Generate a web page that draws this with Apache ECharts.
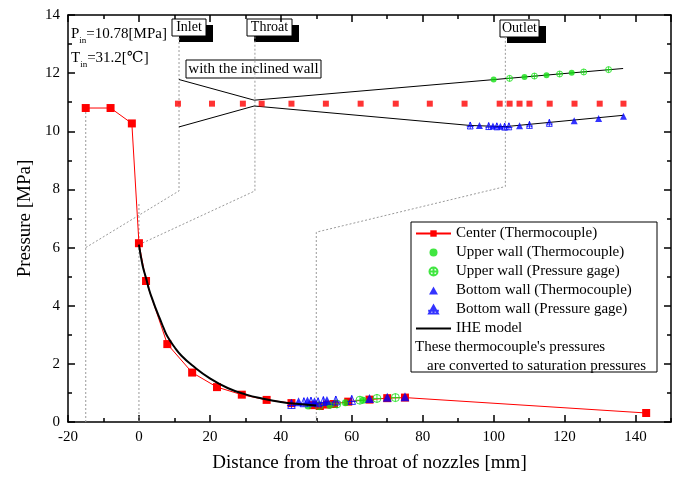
<!DOCTYPE html>
<html>
<head>
<meta charset="utf-8">
<script src="https://cdn.jsdelivr.net/npm/echarts@6/dist/echarts.min.js"></script>
<style>
  html, body { margin: 0; padding: 0; background: #fff; }
  #chart { width: 679px; height: 478px; }
</style>
</head>
<body>
<div id="chart"></div>
<script>
const SERIF = '"Liberation Serif", "DejaVu Serif", serif';

// measured pressures along the nozzle axis
const centerX = [-15, -8, -2, 0, 2, 8, 15, 22, 29, 36, 43, 49, 51, 53, 55, 59, 65, 70, 75, 143];
const centerP = [10.8, 10.8, 10.27, 6.15, 4.85, 2.68, 1.7, 1.2, 0.94, 0.76, 0.65, 0.58, 0.55, 0.6, 0.62, 0.7, 0.77, 0.82, 0.84, 0.31];

const upperTcX = [47.7, 53.8, 58.2, 63.2];
const upperTcP = [0.55, 0.58, 0.66, 0.75];
const upperPgX = [50.8, 55.8, 62.3, 67.1, 72.3];
const upperPgP = [0.56, 0.62, 0.75, 0.81, 0.84];

const bottomTcX = [45, 47.5, 49.5, 53, 65, 70, 75];
const bottomTcP = [0.7, 0.72, 0.7, 0.74, 0.81, 0.85, 0.87];
const bottomPgX = [43, 46.5, 48.5, 50.5, 52, 55.5, 60];
const bottomPgP = [0.62, 0.68, 0.7, 0.68, 0.72, 0.74, 0.76];

// IHE model curve
const iheX = [0, 1, 2, 3, 4, 5, 6, 7, 8, 10, 12, 15, 20, 25, 30, 35, 40, 45, 50];
const iheP = [6.1, 5.4, 4.95, 4.5, 4.15, 3.82, 3.52, 3.22, 2.95, 2.58, 2.28, 1.95, 1.5, 1.17, 0.95, 0.8, 0.69, 0.62, 0.57];

// nozzle sketch drawn in the upper part of the plot
const sketchCenterX = [11, 20.6, 29.3, 34.6, 43, 52.7, 62.5, 72.4, 82, 91.8, 101.7, 104.5, 107.3, 110.1, 115.8, 122.8, 129.9, 136.6];
const sketchCenterY = [10.95, 10.95, 10.95, 10.95, 10.95, 10.95, 10.95, 10.95, 10.95, 10.95, 10.95, 10.95, 10.95, 10.95, 10.95, 10.95, 10.95, 10.95];
const upperWallX = [11.3, 32.5, 136.5];
const upperWallY = [11.78, 11.07, 12.16];
const lowerWallX = [11.3, 32.5, 93.4, 103.3, 136.6];
const lowerWallY = [10.15, 10.87, 10.2, 10.16, 10.55];
const sUpperTcX = [100, 108.7, 114.9, 122];
const sUpperTcY = [11.78, 11.87, 11.93, 12.01];
const sUpperPgX = [104.5, 111.5, 118.6, 125.4, 132.4];
const sUpperPgY = [11.82, 11.9, 11.97, 12.04, 12.12];
const sBottomTcX = [96, 99.8, 101.9, 107.3, 122.7, 129.6, 136.6];
const sBottomTcY = [10.2, 10.18, 10.17, 10.19, 10.36, 10.44, 10.52];
const sBottomPgX = [93.4, 98.6, 100.9, 103.1, 104.3, 110.1, 115.7];
const sBottomPgY = [10.2, 10.18, 10.17, 10.16, 10.17, 10.22, 10.29];

// dotted guides linking sketch and measurement positions
const guideLines = [
  { x: [-15, -15], y: [0, 10.8] },
  { x: [-15, 11.3, 11.3], y: [6, 7.95, 13.3] },
  { x: [0, 0], y: [0, 7.5] },
  { x: [0, 32.7, 32.7], y: [6.1, 7.95, 13.3] },
  { x: [50, 50, 103.3, 103.3], y: [0, 6.53, 8.1, 13.25] }
];

const RED = '#ff0000';
const GREEN = '#11e011';
const BLUE = '#0000ff';
const crossCircle = 'path://M0,-10A10,10 0 1 1 0,10A10,10 0 1 1 0,-10ZM-10,0L10,0M0,-10L0,10';
const crossTriangle = 'path://M0,-10L10,8L-10,8ZM0,-10L0,8M-12,2L12,2';
const solidTriangle = 'path://M0,-10L10,8L-10,8Z';

function pts(xs, ys) {
  return xs.map((x, i) => [x, ys[i]]);
}

const chart = echarts.init(document.getElementById('chart'));

const tickStyle = { color: '#000', width: 1.5 };
function xAx(pos, interval, len, labels, line) {
  return {
    type: 'value', position: pos, min: -20, max: 150, interval: interval,
    axisLine: { show: line, onZero: false, lineStyle: tickStyle },
    axisTick: { inside: true, length: len, lineStyle: tickStyle },
    splitLine: { show: false },
    axisLabel: {
      show: labels, showMaxLabel: false, color: '#000',
      fontFamily: SERIF, fontSize: 15, margin: 8
    }
  };
}
function yAx(pos, labels) {
  return {
    type: 'value', position: pos, min: 0, max: 14, interval: 2,
    axisLine: { show: true, onZero: false, lineStyle: tickStyle },
    axisTick: { inside: true, length: 7, lineStyle: tickStyle },
    minorTick: { show: true, splitNumber: 2, length: 4, lineStyle: tickStyle },
    splitLine: { show: false },
    axisLabel: { show: labels, color: '#000', fontFamily: SERIF, fontSize: 15, margin: 8 }
  };
}

const xAxes = [
  Object.assign(xAx('bottom', 20, 7, true, true), {
    name: 'Distance from the throat of nozzles [mm]',
    nameLocation: 'middle', nameGap: 32,
    nameTextStyle: { fontFamily: SERIF, fontSize: 19, color: '#000' }
  }),
  xAx('bottom', 10, 4, false, false),
  xAx('top', 20, 7, false, true),
  xAx('top', 10, 4, false, false)
];
const yAxes = [
  Object.assign(yAx('left', true), {
    name: 'Pressure [MPa]', nameLocation: 'middle', nameGap: 31,
    nameTextStyle: { fontFamily: SERIF, fontSize: 19, color: '#000' }
  }),
  yAx('right', false)
];

const series = [];
guideLines.forEach((g, i) => {
  series.push({
    name: 'guide' + i, type: 'line', data: pts(g.x, g.y), symbol: 'none', silent: true,
    lineStyle: { color: '#999', width: 1, type: [2, 2] }, z: 1
  });
});
series.push(
  { name: 'upperWall', type: 'line', data: pts(upperWallX, upperWallY), symbol: 'none',
    lineStyle: { color: '#000', width: 1 }, z: 2 },
  { name: 'lowerWall', type: 'line', data: pts(lowerWallX, lowerWallY), symbol: 'none',
    lineStyle: { color: '#000', width: 1 }, z: 2 },
  { name: 'sketchCenter', type: 'scatter', data: pts(sketchCenterX, sketchCenterY),
    symbol: 'rect', symbolSize: 6, itemStyle: { color: RED }, z: 3 },
  { name: 'sketchUpperTc', type: 'scatter', data: pts(sUpperTcX, sUpperTcY),
    symbol: 'circle', symbolSize: 6, itemStyle: { color: GREEN }, z: 3 },
  { name: 'sketchUpperPg', type: 'scatter', data: pts(sUpperPgX, sUpperPgY),
    symbol: crossCircle, symbolSize: 6,
    itemStyle: { color: 'none', borderColor: GREEN, borderWidth: 1 }, z: 3 },
  { name: 'sketchBottomTc', type: 'scatter', data: pts(sBottomTcX, sBottomTcY),
    symbol: 'triangle', symbolSize: 7, itemStyle: { color: BLUE }, z: 3 },
  { name: 'sketchBottomPg', type: 'scatter', data: pts(sBottomPgX, sBottomPgY),
    symbol: crossTriangle, symbolSize: 7,
    itemStyle: { color: 'none', borderColor: BLUE, borderWidth: 1 }, z: 3 },

  { name: 'Center (Thermocouple)', type: 'line', data: pts(centerX, centerP),
    symbol: 'rect', symbolSize: 8, itemStyle: { color: RED },
    lineStyle: { color: RED, width: 1 }, z: 4 },
  { name: 'Upper wall (Thermocouple)', type: 'scatter', data: pts(upperTcX, upperTcP),
    symbol: 'circle', symbolSize: 7, itemStyle: { color: GREEN }, z: 5 },
  { name: 'Upper wall (Pressure gage)', type: 'scatter', data: pts(upperPgX, upperPgP),
    symbol: crossCircle, symbolSize: 8,
    itemStyle: { color: 'none', borderColor: GREEN, borderWidth: 1 }, z: 5 },
  { name: 'Bottom wall (Thermocouple)', type: 'scatter', data: pts(bottomTcX, bottomTcP),
    symbol: 'triangle', symbolSize: 9, itemStyle: { color: BLUE }, z: 6 },
  { name: 'Bottom wall (Pressure gage)', type: 'scatter', data: pts(bottomPgX, bottomPgP),
    symbol: crossTriangle, symbolSize: 9,
    itemStyle: { color: 'none', borderColor: BLUE, borderWidth: 1 }, z: 6 },
  { name: 'IHE model', type: 'line', data: pts(iheX, iheP), symbol: 'none', smooth: true,
    itemStyle: { color: '#000' }, lineStyle: { color: '#000', width: 2 }, z: 7 }
);

function labelBox(x, y, w, h, text, shadow) {
  const children = [];
  if (shadow) {
    children.push({ type: 'rect', shape: { x: x + 7, y: y + 6, width: w, height: h },
      style: { fill: '#000' } });
  }
  children.push(
    { type: 'rect', shape: { x: x, y: y, width: w, height: h },
      style: { fill: '#fff', stroke: '#000', lineWidth: 1 } },
    { type: 'text', x: x + w / 2, y: y + h / 2,
      style: { text: text, fill: '#000', font: (shadow ? '14px ' : '15px ') + SERIF,
        align: 'center', verticalAlign: 'middle' } }
  );
  return { type: 'group', children: children, z: 100 };
}

const subRich = {
  m: { fontFamily: SERIF, fontSize: 15, color: '#000', lineHeight: 20, verticalAlign: 'bottom' },
  s: { fontFamily: SERIF, fontSize: 9, color: '#000', lineHeight: 20, verticalAlign: 'bottom', padding: [0, 0, -3, 0] }
};

chart.setOption({
  animation: false,
  backgroundColor: '#fff',
  grid: { left: 68, right: 8, top: 15, bottom: 54 },
  xAxis: xAxes,
  yAxis: yAxes,
  legend: {
    orient: 'vertical', left: 410, top: 221,
    itemWidth: 35, itemHeight: 8, itemGap: 4,
    textStyle: { fontFamily: SERIF, fontSize: 15, lineHeight: 15, color: '#000' },
    data: [
      'Center (Thermocouple)',
      'Upper wall (Thermocouple)',
      'Upper wall (Pressure gage)',
      { name: 'Bottom wall (Thermocouple)', icon: solidTriangle },
      'Bottom wall (Pressure gage)',
      { name: 'IHE model', icon: 'path://M0,0H35V2H0Z' }
    ],
    selectedMode: false
  },
  series: series,
  graphic: [
    { type: 'rect', shape: { x: 411, y: 222, width: 246, height: 150 },
      style: { fill: 'none', stroke: '#000', lineWidth: 1 }, z: 90 },
    { type: 'text', x: 415, y: 347,
      style: { text: "These thermocouple's pressures", fill: '#000', font: '15px ' + SERIF, verticalAlign: 'middle' } },
    { type: 'text', x: 427, y: 366,
      style: { text: 'are converted to saturation pressures', fill: '#000', font: '15px ' + SERIF, verticalAlign: 'middle' } },
    { type: 'text', x: 71, y: 22,
      style: { text: '{m|P}{s|in}{m|=10.78[MPa]}', rich: subRich } },
    { type: 'text', x: 71, y: 46,
      style: { text: '{m|T}{s|in}{m|=31.2[℃]}', rich: subRich } },
    labelBox(172, 19, 34, 17, 'Inlet', true),
    labelBox(247, 19, 45, 17, 'Throat', true),
    labelBox(500, 20, 39, 17, 'Outlet', true),
    labelBox(186, 60, 135, 18, 'with the inclined wall', false)
  ]
});
</script>
</body>
</html>
